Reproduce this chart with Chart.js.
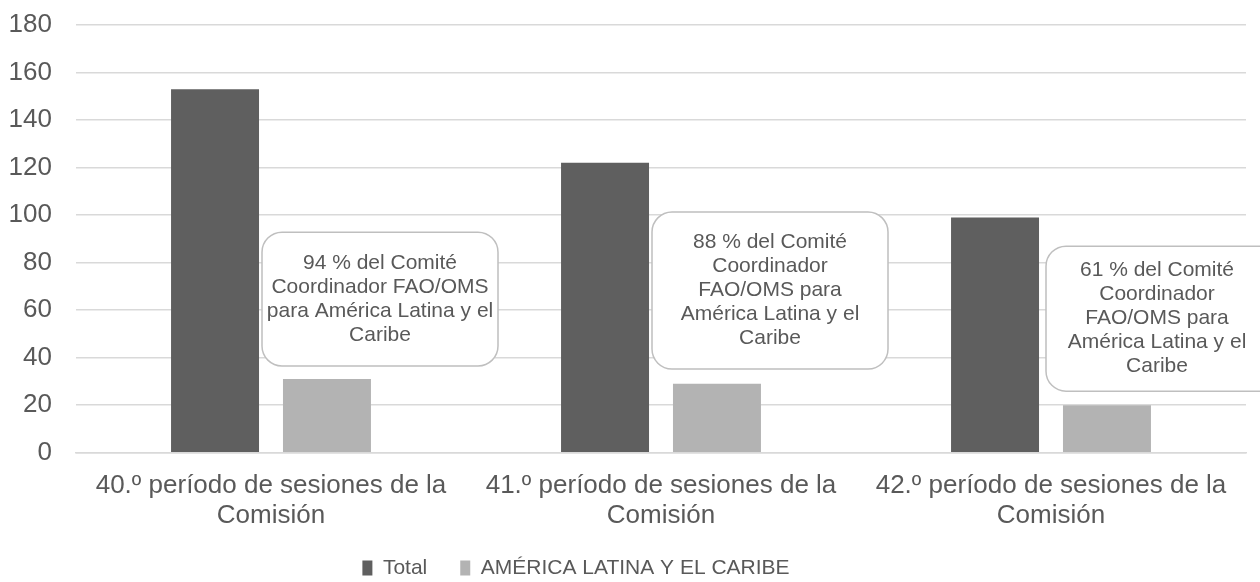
<!DOCTYPE html>
<html>
<head>
<meta charset="utf-8">
<script src="https://cdn.jsdelivr.net/npm/chart.js@4.4.1/dist/chart.umd.min.js"></script>
<style>
  html, body { margin: 0; padding: 0; background: #ffffff; }
  #wrap { width: 1260px; height: 582px; position: relative; }
</style>
</head>
<body>
<div id="wrap"><canvas id="c"></canvas></div>
<script>
const categories = [
  ["40.º período de sesiones de la", "Comisión"],
  ["41.º período de sesiones de la", "Comisión"],
  ["42.º período de sesiones de la", "Comisión"]
];
const seriesNames = ["Total", "AMÉRICA LATINA Y EL CARIBE"];
const totalValues = [153, 122, 99];
const alcValues = [31, 29, 20];
const yTicks = [0, 20, 40, 60, 80, 100, 120, 140, 160, 180];
const calloutTexts = [
  ["94 % del Comité", "Coordinador FAO/OMS", "para América Latina y el", "Caribe"],
  ["88 % del Comité", "Coordinador", "FAO/OMS para", "América Latina y el", "Caribe"],
  ["61 % del Comité", "Coordinador", "FAO/OMS para", "América Latina y el", "Caribe"]
];

// callout geometry (style): left offset from category centre (px), width (px),
// text centre offset from box left (px), top/bottom in axis units
const calloutLayout = [
  { dl: -9, w: 236, tx: 118, top: 92.8, bottom: 36.5 },
  { dl: -9, w: 236, tx: 118, top: 101.3, bottom: 35.2 },
  { dl: -5, w: 240, tx: 111, top: 86.9, bottom: 25.9 }
];

const TEXT = '#595959';
const FONT = '"Liberation Sans", Arial, sans-serif';

const calloutPlugin = {
  id: 'callouts',
  afterDatasetsDraw(chart) {
    const { ctx, scales: { x, y } } = chart;
    ctx.save();
    calloutLayout.forEach((c, i) => {
      const left = x.getPixelForValue(i) + c.dl;
      const top = y.getPixelForValue(c.top);
      const bottom = y.getPixelForValue(c.bottom);
      const h = bottom - top;
      ctx.beginPath();
      ctx.roundRect(left, top, c.w, h, 20);
      ctx.fillStyle = '#ffffff';
      ctx.fill();
      ctx.lineWidth = 1.5;
      ctx.strokeStyle = '#bfbfbf';
      ctx.stroke();
      const lines = calloutTexts[i];
      const lh = 24;
      const cx = left + c.tx;
      const cy = top + h / 2;
      ctx.fillStyle = TEXT;
      ctx.font = '21px ' + FONT;
      ctx.textAlign = 'center';
      ctx.textBaseline = 'middle';
      lines.forEach((t, k) => {
        ctx.fillText(t, cx, cy + (k - (lines.length - 1) / 2) * lh);
      });
    });
    ctx.restore();
  }
};

// place the legend where the reference has it (text centre ~y 568)
const legendShift = {
  id: 'legendShift',
  afterLayout(chart) {
    const l = chart.legend;
    if (!l) return;
    const dx = -47;
    const targetTop = 568 - 33 - 10.5;
    const dy = targetTop - l.top;
    l.left += dx; l.right += dx;
    l.top += dy; l.bottom += dy;
  }
};

new Chart(document.getElementById('c'), {
  type: 'bar',
  data: {
    labels: categories,
    datasets: [
      { label: seriesNames[0], data: totalValues, backgroundColor: '#5f5f5f' },
      { label: seriesNames[1], data: alcValues, backgroundColor: '#b3b3b3' }
    ]
  },
  options: {
    responsive: true,
    maintainAspectRatio: false,
    animation: false,
    categoryPercentage: 0.574,
    barPercentage: 0.786,
    layout: { padding: { top: 25, right: 14, left: 0, bottom: -30 } },
    plugins: {
      tooltip: { enabled: false },
      legend: {
        position: 'bottom',
        labels: {
          color: TEXT,
          font: { family: FONT, size: 21 },
          boxWidth: 10,
          boxHeight: 15,
          padding: 33
        }
      }
    },
    scales: {
      x: {
        afterFit(axis) {
          axis.height = 95.3;
          axis.paddingLeft = 0; axis.paddingRight = 0;
        },
        grid: { display: false, drawTicks: false },
        border: { display: true, color: '#d9d9d9', width: 1.5 },
        ticks: {
          color: TEXT,
          font: { family: FONT, size: 26, lineHeight: 1.15 },
          padding: 18,
          maxRotation: 0,
          autoSkip: false
        }
      },
      y: {
        min: 0,
        max: 180,
        afterBuildTicks(axis) { axis.ticks = yTicks.map(v => ({ value: v })); },
        afterFit(axis) {
          axis.width = 76;
          axis.paddingTop = 0; axis.paddingBottom = 0;
        },
        grid: { color: '#d9d9d9', lineWidth: 1.5, drawTicks: false },
        border: { display: false },
        ticks: {
          color: TEXT,
          font: { family: FONT, size: 26 },
          padding: 24
        }
      }
    }
  },
  plugins: [calloutPlugin, legendShift]
});
</script>
</body>
</html>
